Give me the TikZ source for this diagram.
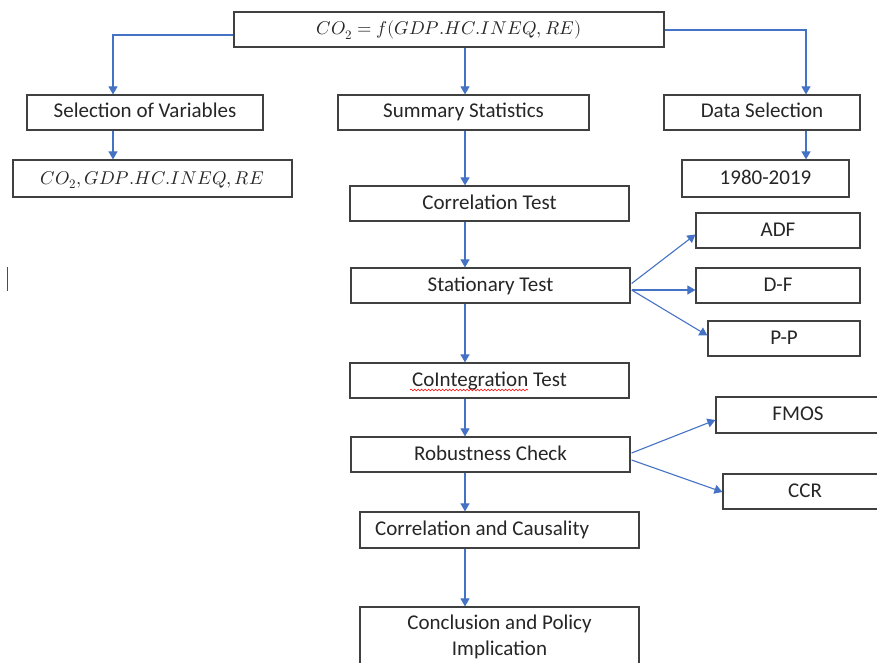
\documentclass[tikz,border=0pt]{standalone}
\usepackage{fontspec}
\usepackage{unicode-math}
\setmainfont{Carlito}
\setmathfont{Latin Modern Math}
\usetikzlibrary{arrows.meta,calc,decorations.pathmorphing}
\definecolor{arrblue}{RGB}{68,114,196}
\definecolor{boxgray}{RGB}{64,64,64}
\tikzset{
  box/.style={draw=boxgray, line width=1.2pt, fill=white, inner sep=0pt, text height=13pt, text depth=2pt, font=\fontsize{21}{25}\selectfont, text=black!85},
  mathbox/.style={box, font=\fontsize{18.5}{22}\selectfont},
  arr/.style={draw=arrblue, line width=1.1pt, -{Triangle[width=9pt,length=8pt]}},
  lbl/.style={inner sep=0pt, font=\fontsize{21}{25}\selectfont, text=black!85}
}
\begin{document}
\begin{tikzpicture}[x=1pt,y=-1pt]
\useasboundingbox (0,0) rectangle (877,663);
\clip (0,0) rectangle (877,663);
% boxes
\node[mathbox, minimum width=430, minimum height=35] (top) at (449,29.5) {$CO_2=f(GDP.HC.INEQ,RE)$};
\node[box, minimum width=236, minimum height=35] (sel) at (145,112.5) {Selection of Variables};
\node[mathbox, minimum width=279, minimum height=37] (vars) at (152.5,178.5) {$CO_2,GDP.HC.INEQ,RE$};
\node[box, minimum width=251, minimum height=35] (sum) at (463.5,112.5) {Summary Statistics};
\node[box, minimum width=196, minimum height=35] (data) at (762,112.5) {Data Selection};
\node[box, minimum width=167, minimum height=37] (years) at (765.5,178.5) {1980-2019};
\node[box, minimum width=279, minimum height=35] (corr) at (489.5,203.5) {Correlation Test};
\node[box, minimum width=164, minimum height=35] (adf) at (778,230.5) {ADF};
\node[box, minimum width=279, minimum height=35] (stat) at (490.5,285.5) {Stationary Test};
\node[box, minimum width=164, minimum height=35] (df) at (778,285.5) {D-F};
\node[box, minimum width=152, minimum height=35] (pp) at (784,338.5) {P-P};
\node[box, minimum width=279, minimum height=35] (coint) at (489.5,380.5) {CoIntegration Test};
\node[box, minimum width=164, minimum height=36] (fmos) at (798,415) {FMOS};
\node[box, minimum width=279, minimum height=35] (rob) at (490.5,454.5) {Robustness Check};
\node[box, minimum width=164, minimum height=35] (ccr) at (805,491.5) {CCR};
\node[box, minimum width=279, minimum height=36] (cc) at (499.5,530) {};
\node[lbl, anchor=west, text height=13pt, text depth=2pt] (cct) at (375,530) {Correlation and Causality};
\node[box, minimum width=279, minimum height=73] (concl) at (499.5,643.5) {};
\node[lbl, align=center] (conclt) at (499.5,637) {Conclusion and Policy\\[1pt]Implication};
% spell-check underline
\coordinate (w1) at (410,390);
\coordinate (w2) at (528,390);
\draw[red, line width=0.6pt, decorate, decoration={snake, amplitude=0.9pt, segment length=3.5pt}] (w1) -- (w2);
% cursor
\coordinate (cur1) at (7.5,267);
\coordinate (cur2) at (7.5,291);
\draw[black!70, line width=1.6pt] (cur1) -- (cur2);
% columns
\coordinate (colL) at (113,0);
\coordinate (colC) at (465,0);
\coordinate (colR) at (806,0);
% connectors
\draw[arr] (top.west |- 0,35) -| (sel.north -| colL);
\draw[arr] (top.east |- 0,30) -| (data.north -| colR);
\draw[arr] (top.south -| colC) -- (sum.north -| colC);
\draw[arr] (sel.south -| colL) -- (vars.north -| colL);
\draw[arr] (data.south -| colR) -- (years.north -| colR);
\draw[arr] (sum.south -| colC) -- (corr.north -| colC);
\draw[arr] (corr.south -| colC) -- (stat.north -| colC);
\draw[arr] (stat.south -| colC) -- (coint.north -| colC);
\draw[arr] (coint.south -| colC) -- (rob.north -| colC);
\draw[arr] (rob.south -| colC) -- (cc.north -| colC);
\draw[arr] (cc.south -| colC) -- (concl.north -| colC);
% side branches
\coordinate (s1) at ($(stat.east)+(1,-2)$);
\coordinate (s2) at ($(stat.east)+(1,4.5)$);
\draw[arr] (s1) -- ($(adf.west)+(0,4)$);
\draw[arr] (s2) -- (df.west |- s2);
\draw[arr] (s2) -- ($(pp.west)+(0,-3)$);
\coordinate (r1) at ($(rob.east)+(1,-1.5)$);
\coordinate (r2) at ($(rob.east)+(1,5.5)$);
\draw[arr] (r1) -- ($(fmos.west)+(0,5)$);
\draw[arr] (r2) -- ($(ccr.west)+(0,0.5)$);
\end{tikzpicture}
\end{document}
